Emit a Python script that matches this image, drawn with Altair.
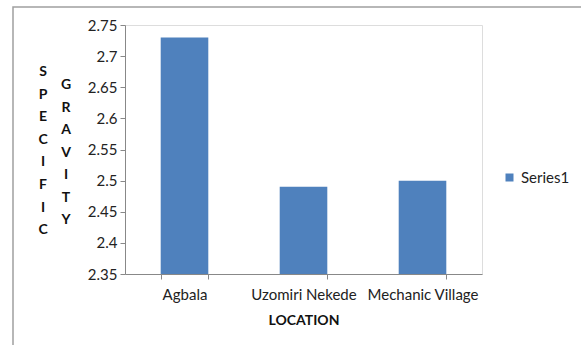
import altair as alt
import pandas as pd

locations = ["Agbala", "Uzomiri Nekede", "Mechanic Village"]
values = [2.73, 2.49, 2.50]
series = ["Series1", "Series1", "Series1"]
y_ticks = [2.35, 2.4, 2.45, 2.5, 2.55, 2.6, 2.65, 2.7, 2.75]

df = pd.DataFrame({"location": locations, "value": values, "series": series})

FONT = "Lato"
PLOT_LEFT, PLOT_TOP = 125, 25
W, H = 357, 249

bars = alt.Chart(df).mark_bar(clip=True).encode(
    x=alt.X("location:N", sort=locations,
            scale=alt.Scale(paddingInner=0.6, paddingOuter=0.3),
            axis=alt.Axis(title="LOCATION", labelAngle=0, tickBand="extent",
                          domainColor="#888888", tickColor="#888888", tickSize=5,
                          labelFont=FONT, labelFontSize=15, labelColor="#222222",
                          labelPadding=8, titleFont=FONT, titleFontSize=14,
                          titleFontWeight="bold", titleColor="#111111", titlePadding=11)),
    y=alt.Y("value:Q", scale=alt.Scale(domain=[2.35, 2.75], zero=False, nice=False),
            axis=alt.Axis(title=None, values=y_ticks, format="~g", grid=False,
                          domainColor="#888888", tickColor="#888888", tickSize=5,
                          labelFont=FONT, labelFontSize=15, labelColor="#222222",
                          labelPadding=3)),
    color=alt.Color("series:N", scale=alt.Scale(range=["#4F81BD"]),
                    legend=alt.Legend(title=None, orient="none", legendX=377, legendY=145,
                                      symbolType="square", symbolSize=64,
                                      symbolStrokeWidth=0,
                                      labelFont=FONT, labelFontSize=15,
                                      labelColor="#222222")),
)

one = pd.DataFrame({"k": [0]})

border = alt.Chart(one).mark_rect(fill=None, stroke="#a0a0a0", strokeWidth=1.5).encode(
    x=alt.value(13 - PLOT_LEFT), x2=alt.value(700),
    y=alt.value(7 - PLOT_TOP), y2=alt.value(500),
)

title1 = alt.Chart(one).mark_text(
    lineBreak="\n", lineHeight=22.6, font=FONT, fontSize=14, fontWeight="bold",
    baseline="middle", align="center", color="#111111"
).encode(
    x=alt.value(43 - PLOT_LEFT), y=alt.value(72 - PLOT_TOP),
    text=alt.value("S\nP\nE\nC\nI\nF\nI\nC"),
)

title2 = alt.Chart(one).mark_text(
    lineBreak="\n", lineHeight=22.5, font=FONT, fontSize=14, fontWeight="bold",
    baseline="middle", align="center", color="#111111"
).encode(
    x=alt.value(66 - PLOT_LEFT), y=alt.value(85 - PLOT_TOP),
    text=alt.value("G\nR\nA\nV\nI\nT\nY"),
)

chart = alt.layer(border, bars, title1, title2).properties(
    width=W, height=H,
    autosize=alt.AutoSizeParams(type="none"),
    padding={"left": PLOT_LEFT, "top": PLOT_TOP,
             "right": 581 - PLOT_LEFT - W, "bottom": 345 - PLOT_TOP - H},
).configure_view(stroke=None).configure(background="white")

chart.save("out.html", embed_options={"renderer": "svg", "actions": False})
